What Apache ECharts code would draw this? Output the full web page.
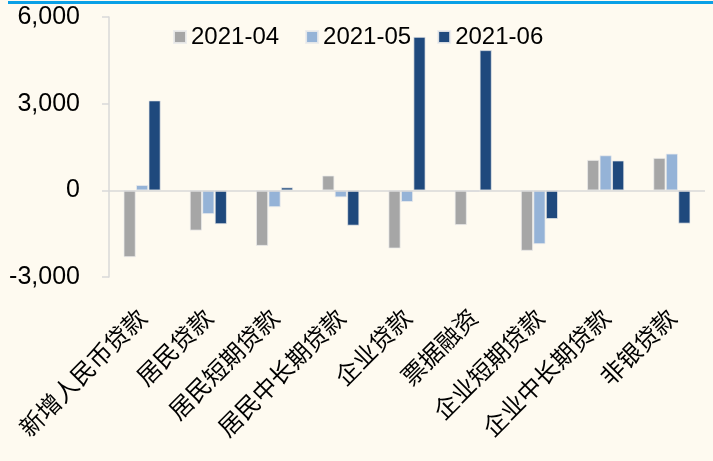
<!DOCTYPE html>
<html>
<head>
<meta charset="utf-8">
<script src="https://cdn.jsdelivr.net/npm/echarts@6/dist/echarts.min.js"></script>
<style>
html,body{margin:0;padding:0;background:#FEFAF0;}
#c{width:713px;height:461px;}
</style>
</head>
<body>
<div id="c"></div>
<script>
var categories = ['新增人民币贷款','居民贷款','居民短期贷款','居民中长期贷款','企业贷款','票据融资','企业短期贷款','企业中长期贷款','非银贷款'];
var seriesNames = ['2021-04','2021-05','2021-06'];
var apr = [-2310, -1390, -1920, 510, -2010, -1200, -2090, 1050, 1120];
var may = [180, -820, -580, -240, -400, -50, -1860, 1210, 1270];
var jun = [3110, -1170, 100, -1220, 5310, 4850, -990, 1030, -1150];
var yTicks = [-3000, 0, 3000, 6000];

var FONT = "'Liberation Sans', Arial, 'Noto Sans CJK SC', sans-serif";
var colors = ['#A6A6A6', '#95B3D7', '#1F497D'];
var chart = echarts.init(document.getElementById('c'));

function barSeries(name, data, color, withZero) {
  var s = {
    name: name,
    type: 'bar',
    data: data,
    barWidth: 12,
    barGap: '4%',
    itemStyle: { color: color, borderColor: 'rgba(235,235,235,0.9)', borderWidth: 0.8 },
    animation: false
  };
  if (withZero) {
    s.markLine = {
      silent: true,
      symbol: ['none', 'none'],
      label: { show: false },
      lineStyle: { color: '#D9D9D9', width: 1.5, type: 'solid' },
      data: [{ yAxis: 0 }],
      animation: false
    };
  }
  return s;
}

chart.setOption({
  backgroundColor: '#FEFAF0',
  animation: false,
  textStyle: { fontFamily: FONT },
  graphic: [{
    type: 'rect',
    shape: { x: 8, y: 1, width: 705, height: 3 },
    style: { fill: '#0AA0E6' },
    z: 10
  }],
  legend: {
    left: 168,
    top: 20,
    itemWidth: 12,
    itemHeight: 12,
    itemGap: 26,
    icon: 'rect',
    data: seriesNames,
    textStyle: { fontSize: 24, color: '#000', fontFamily: FONT }
  },
  grid: { left: 109, right: 8, top: 17, bottom: 184, containLabel: false },
  xAxis: {
    type: 'category',
    data: categories,
    axisLine: { show: false, onZero: false },
    axisTick: { show: false },
    axisLabel: {
      rotate: 45,
      interval: 0,
      margin: 36,
      fontSize: 24,
      color: '#000',
      fontFamily: "'Noto Sans CJK SC', sans-serif"
    }
  },
  yAxis: {
    type: 'value',
    min: yTicks[0],
    max: yTicks[yTicks.length - 1],
    interval: 3000,
    axisLine: { show: true, lineStyle: { color: '#D9D9D9', width: 1.5 } },
    axisTick: { show: true, length: 7, lineStyle: { color: '#D9D9D9', width: 1.5 } },
    splitLine: { show: false },
    axisLabel: {
      margin: 29,
      fontSize: 25,
      color: '#000',
      fontFamily: FONT,
      formatter: function (v) { return v.toLocaleString('en-US'); }
    }
  },
  series: [
    barSeries(seriesNames[0], apr, colors[0], true),
    barSeries(seriesNames[1], may, colors[1], false),
    barSeries(seriesNames[2], jun, colors[2], false)
  ]
});
</script>
</body>
</html>
